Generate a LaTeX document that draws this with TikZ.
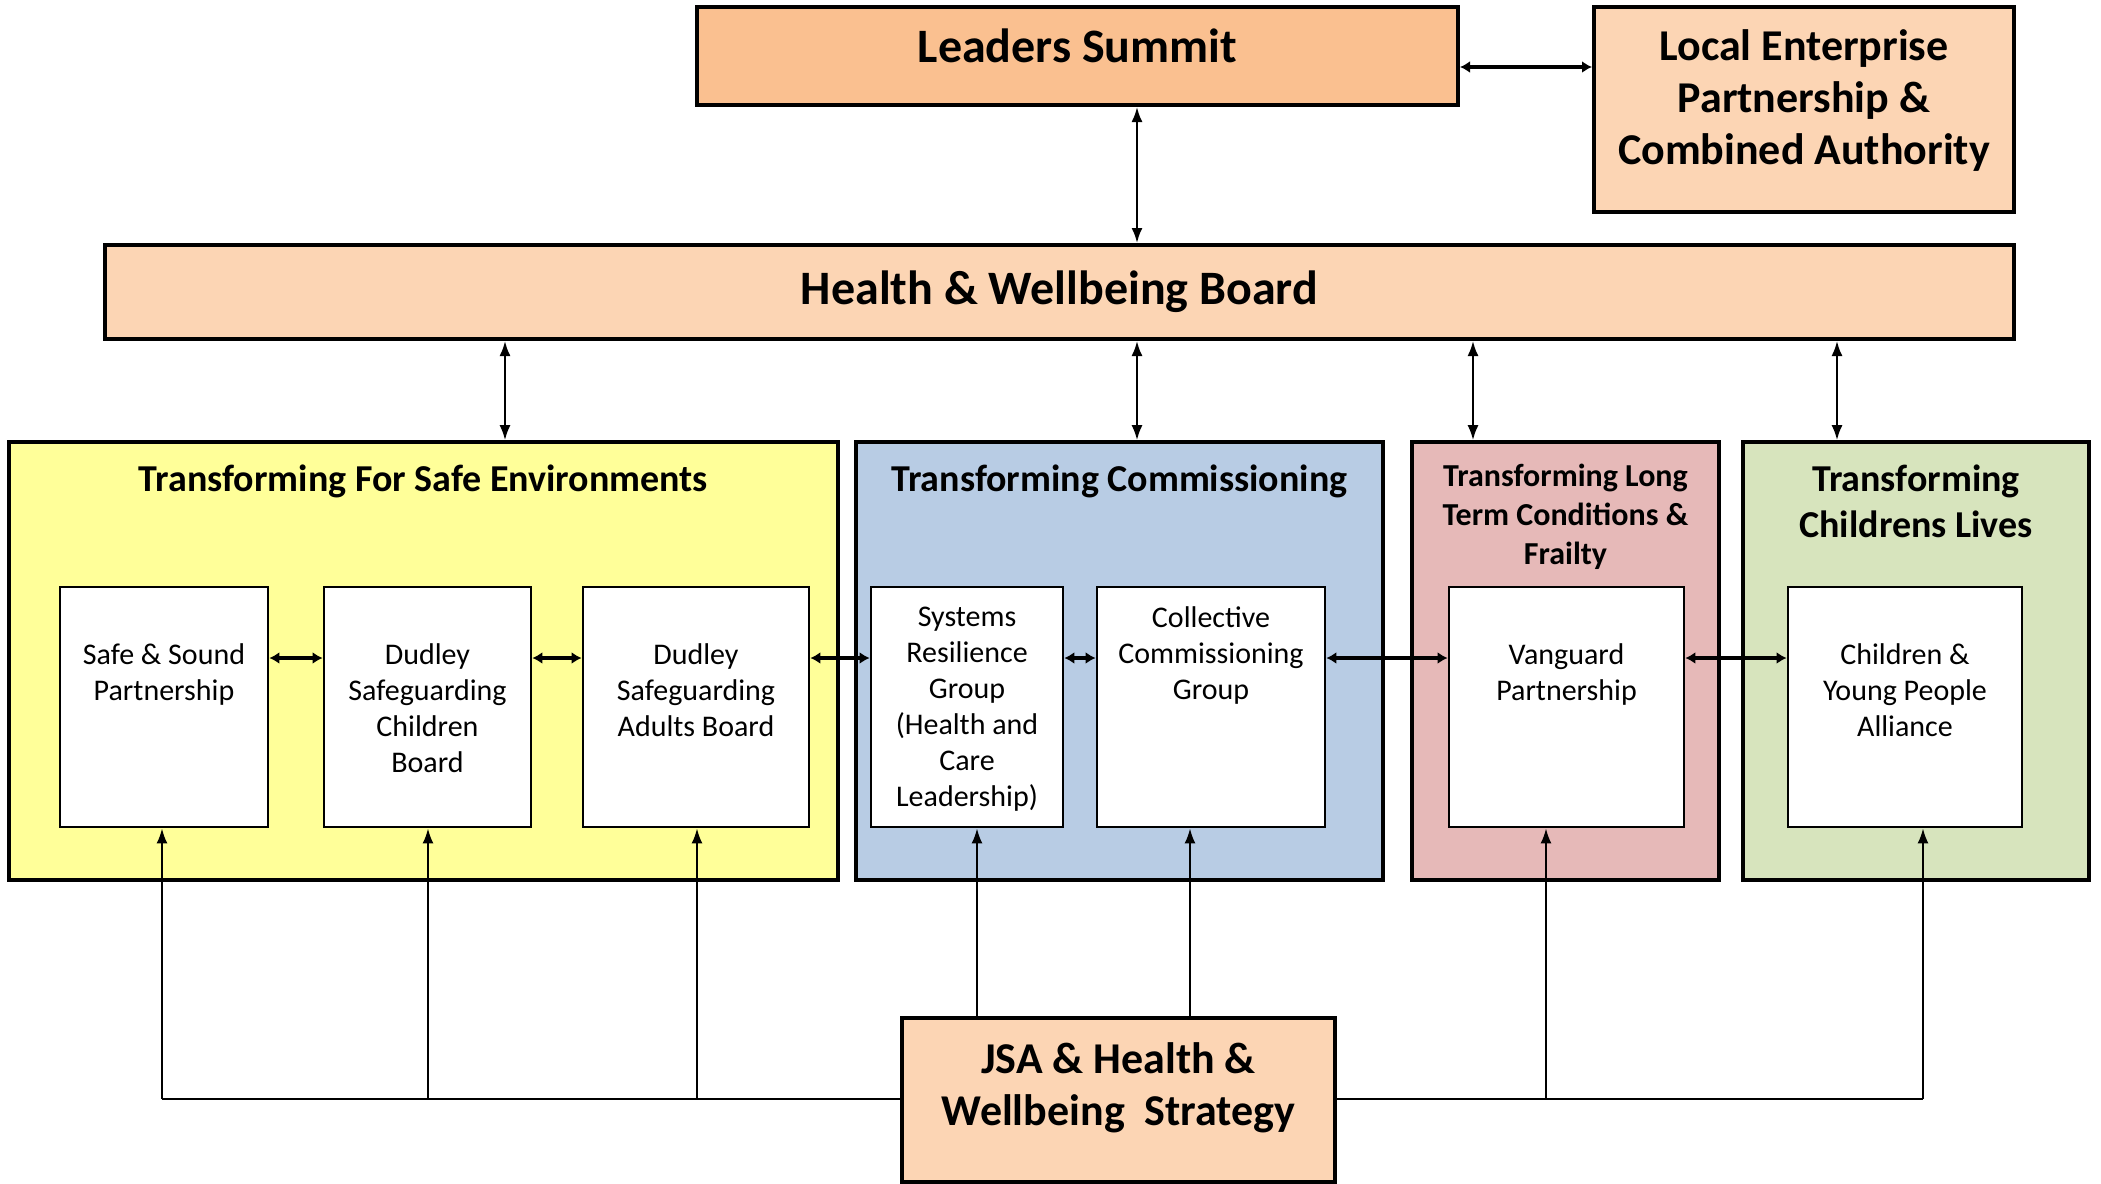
\documentclass[tikz,border=0pt]{standalone}
\usepackage{fontspec}
\setmainfont{Carlito}
\usetikzlibrary{arrows.meta}
\definecolor{summitorange}{HTML}{FAC090}
\definecolor{boardpeach}{HTML}{FCD5B4}
\definecolor{safeyellow}{HTML}{FFFF99}
\definecolor{commblue}{HTML}{B8CCE4}
\definecolor{ltcpink}{HTML}{E6B9B8}
\definecolor{childgreen}{HTML}{D7E4BD}
% width, height, gap above first line, text
\newcommand{\topbox}[4]{\parbox[c][#2][t]{#1}{\centering\vspace*{#3}#4}}

\begin{document}
\begin{tikzpicture}[
      x=0.5pt, y=-0.5pt,
      every node/.style={rectangle, draw=black, inner sep=0pt},
      board/.style={fill=boardpeach, line width=2pt, font=\bfseries\fontsize{24}{29}\selectfont},
      group/.style={line width=1.8pt, font=\bfseries\fontsize{19}{23}\selectfont},
      unit/.style={fill=white, line width=1.4pt, font=\fontsize{15}{18}\selectfont},
      pointer/.style={line width=1pt, ->, >={Latex[length=7.5pt,width=5.5pt]}},
      dpointer/.style={line width=1.1pt, <->, >={Latex[length=7.5pt,width=5.5pt]}},
      spointer/.style={line width=2pt, <->, >={Latex[length=5pt,width=6pt]}},
      busline/.style={line width=1.3pt}
      ]
      \useasboundingbox (0,0) rectangle (2101,1184);
      % top level
      \node[board, fill=summitorange] (leaders) at (1077.5,56) {\topbox{380.5pt}{49pt}{11pt}{Leaders Summit}};
      \node[board, font=\bfseries\fontsize{22}{26}\selectfont] (lep) at (1804,109.5)
        {\topbox{210pt}{102.5pt}{11.3pt}{Local Enterprise\\Partnership \&\\Combined Authority}};
      \node[board, minimum width=954.5pt, minimum height=47pt] (hwb) at (1059.5,292) {Health \& Wellbeing Board};
      % transformation groups
      \node[group, fill=safeyellow] (safe) at (423.5,661) {\topbox{414.5pt}{219pt}{11.3pt}{Transforming For Safe Environments}};
      \node[group, fill=commblue] (comm) at (1119.5,661) {\topbox{263.5pt}{219pt}{11.3pt}{Transforming Commissioning}};
      \node[group, fill=ltcpink, font=\bfseries\fontsize{16}{19.5}\selectfont] (ltc) at (1565.5,661)
        {\topbox{153.5pt}{219pt}{11pt}{Transforming Long\\Term Conditions \&\\Frailty}};
      \node[group, fill=childgreen] (child) at (1916,661) {\topbox{173pt}{219pt}{11.3pt}{Transforming\\Childrens Lives}};
      % units
      \node[unit] (ss) at (164,707) {\topbox{104pt}{120pt}{28.3pt}{Safe \& Sound\\Partnership}};
      \node[unit] (dscb) at (427.5,707) {\topbox{103.5pt}{120pt}{28.3pt}{Dudley\\Safeguarding\\Children\\Board}};
      \node[unit] (dsab) at (696,707) {\topbox{113pt}{120pt}{28.3pt}{Dudley\\Safeguarding\\Adults Board}};
      \node[unit] (srg) at (967,707) {\topbox{96pt}{120pt}{10pt}{Systems\\Resilience\\Group\\(Health and\\Care\\Leadership)}};
      \node[unit] (ccg) at (1211,707) {\topbox{114pt}{120pt}{10pt}{Collective\\Commissioning\\Group}};
      \node[unit] (vang) at (1566.5,707) {\topbox{117.5pt}{120pt}{28.3pt}{Vanguard\\Partnership}};
      \node[unit] (cypa) at (1905,707) {\topbox{117pt}{120pt}{28.3pt}{Children \&\\Young People\\Alliance}};
      % strategy
      \node[board, font=\bfseries\fontsize{22}{26}\selectfont] (jsa) at (1118.5,1100)
        {\topbox{216.5pt}{82pt}{12.3pt}{JSA \& Health \&\\Wellbeing\ \ Strategy}};

      % links
      \coordinate (ly) at (0,67);
      \coordinate (lx) at (1137,0);
      \draw[spointer, line width=1.6pt] (leaders.east |- ly) -- (lep.west |- ly);
      \draw[dpointer] (lx |- leaders.south) -- (lx |- hwb.north);
      \foreach \x/\g in {505/safe, 1137/comm, 1473/ltc, 1837/child} {
        \coordinate (gx) at (\x,0);
        \draw[dpointer] (gx |- hwb.south) -- (gx |- \g.north);
      }
      \coordinate (hy) at (0,658);
      \foreach \a/\b in {ss/dscb, dscb/dsab, dsab/srg, srg/ccg, ccg/vang, vang/cypa}
        \draw[spointer] (\a.east |- hy) -- (\b.west |- hy);
      % strategy bus
      \coordinate (bus) at (0,1099);
      \coordinate (bl) at (162,1099);
      \coordinate (br) at (1923,1099);
      \draw[busline] (bl) -- (jsa.west |- bus);
      \draw[busline] (jsa.east |- bus) -- (br);
      \foreach \x/\u in {162/ss, 428/dscb, 697/dsab, 1546/vang, 1923/cypa} {
        \coordinate (bx) at (\x,1099);
        \draw[pointer] (bx) -- (bx |- \u.south);
      }
      \foreach \x/\u in {977/srg, 1190/ccg} {
        \coordinate (jx) at (\x,0);
        \draw[pointer] (jx |- jsa.north) -- (jx |- \u.south);
      }
\end{tikzpicture}
\end{document}
